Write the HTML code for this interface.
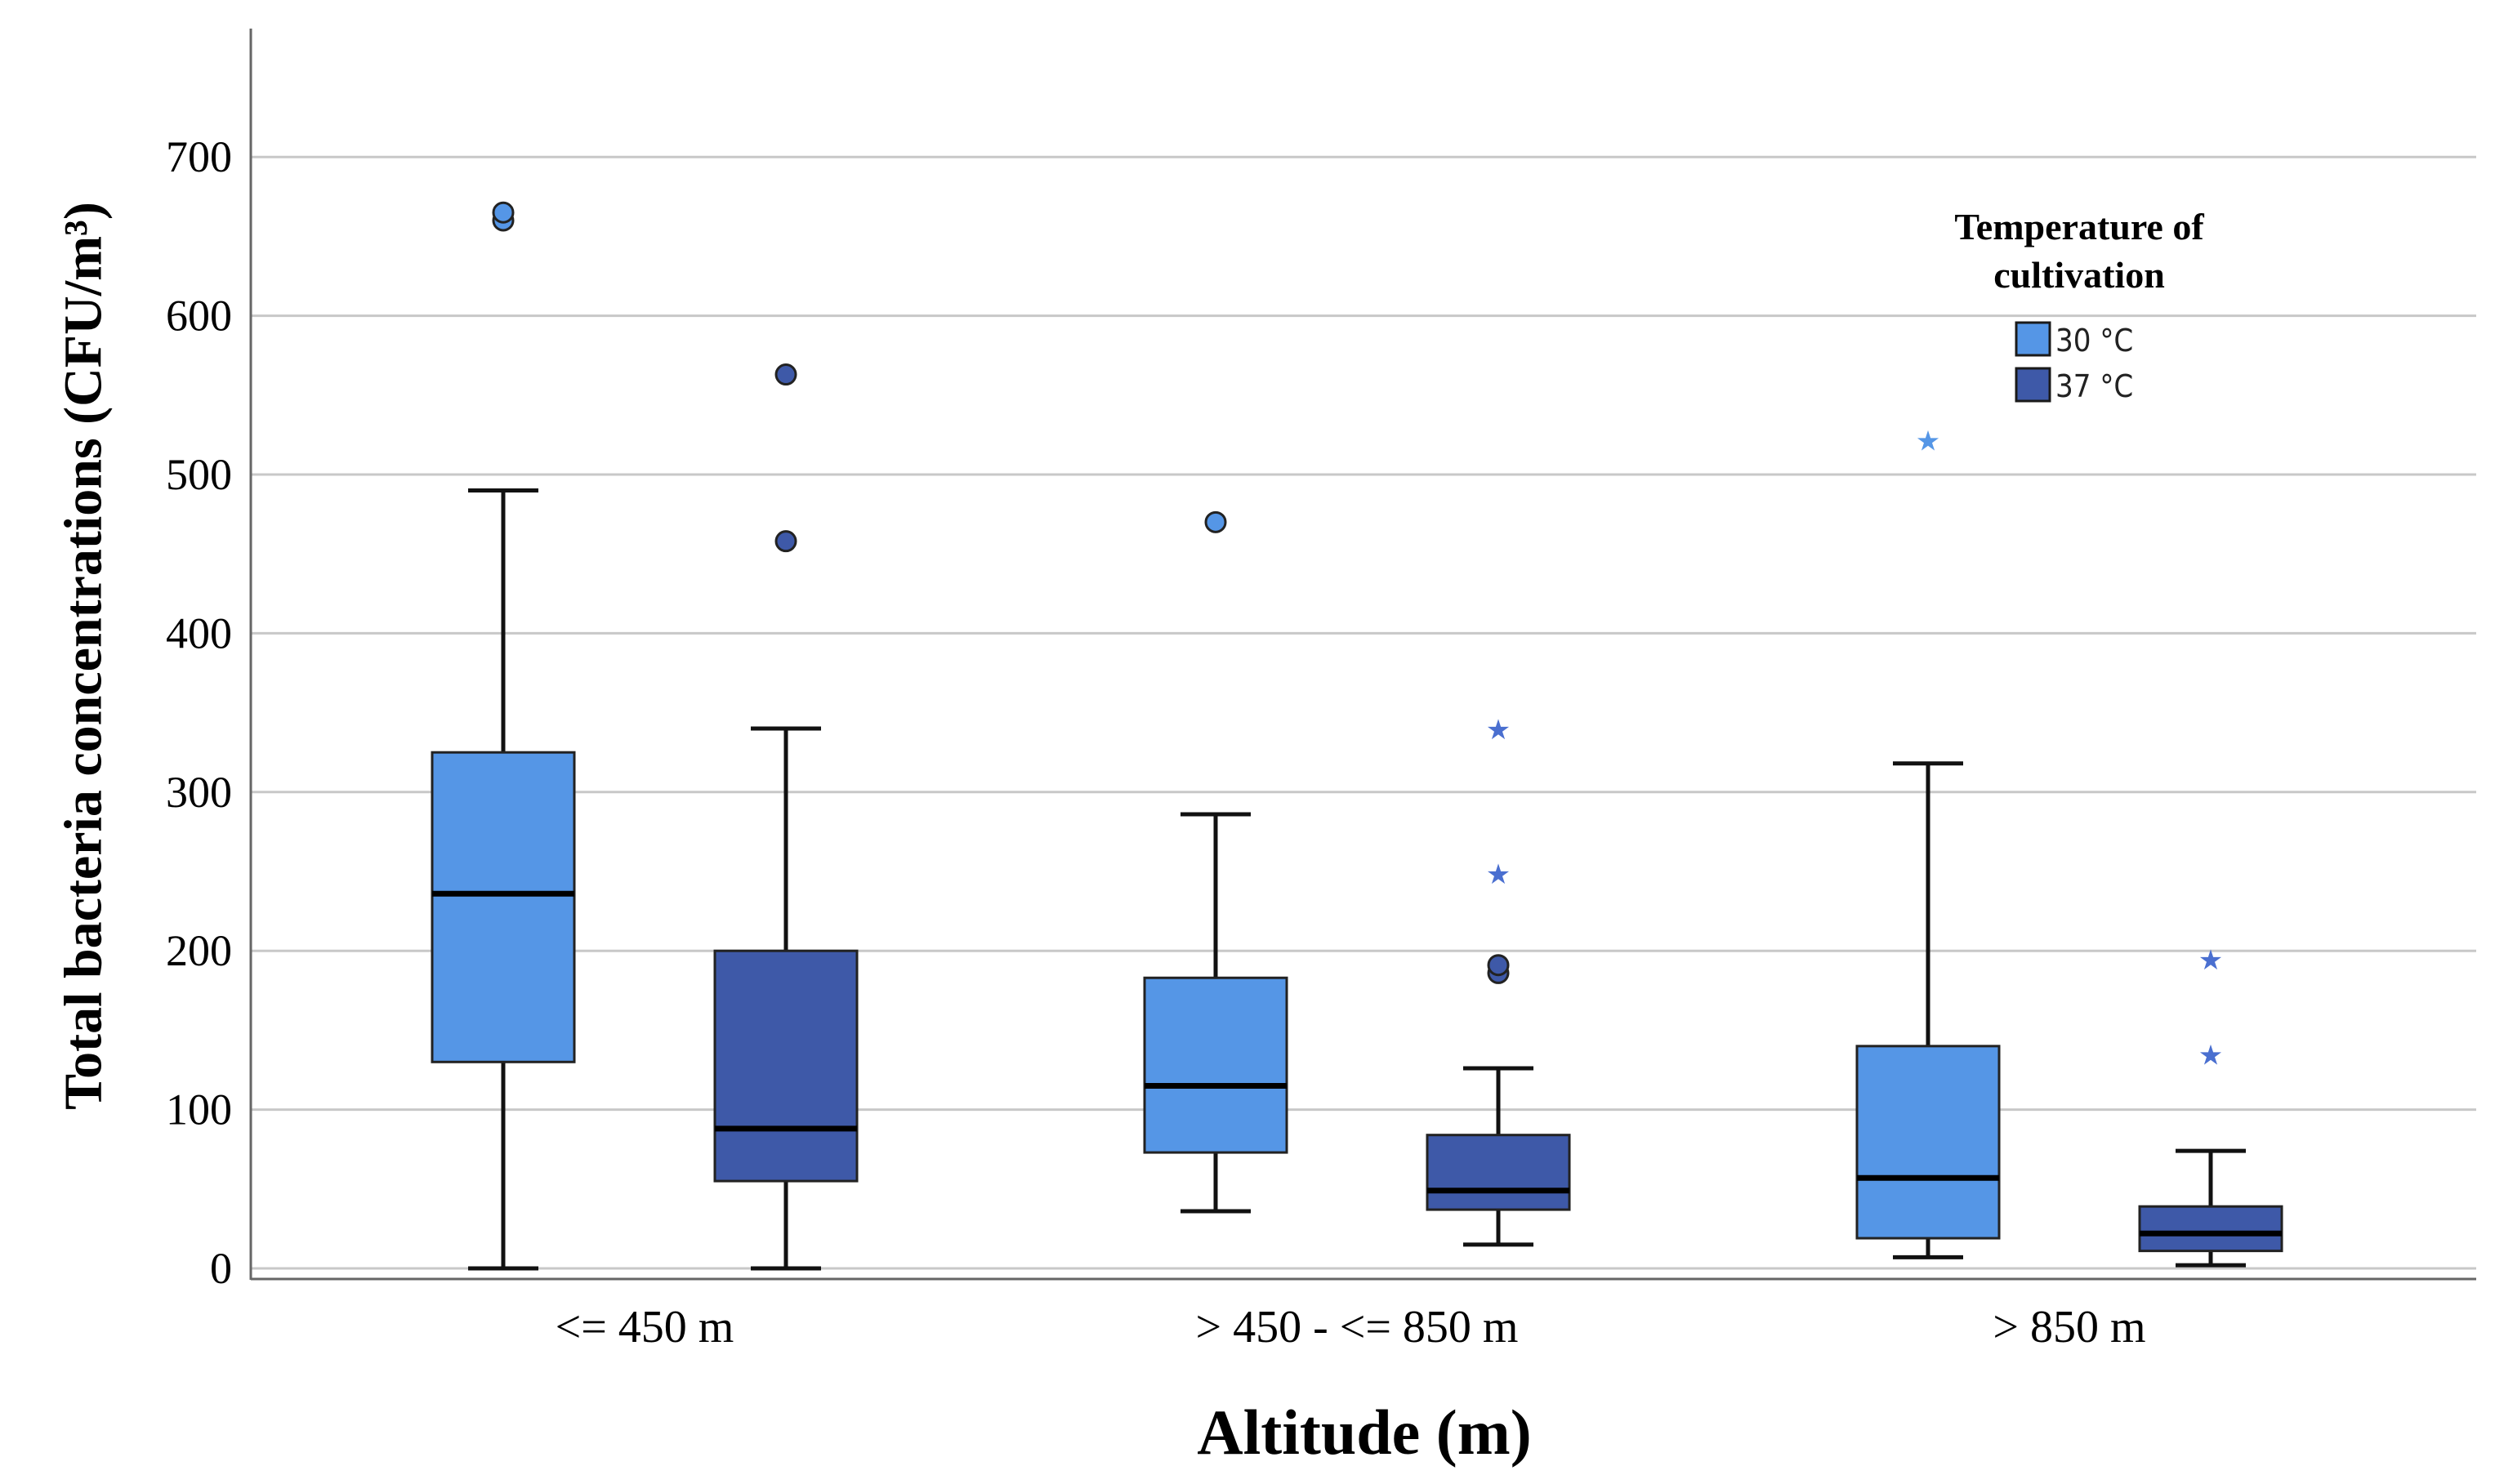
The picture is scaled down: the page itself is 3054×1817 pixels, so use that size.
<!DOCTYPE html>
<html><head><meta charset="utf-8"><style>
html,body{margin:0;padding:0;background:#fff;}
svg{display:block;}
</style></head><body>
<svg id="chart" width="3054" height="1817" viewBox="0 0 3054 1817" xmlns="http://www.w3.org/2000/svg">
<g id="grid"></g>
<g id="axes"></g>
<g id="marks"></g>
<text x="102" y="803" transform="rotate(-90 102 803)" text-anchor="middle" dominant-baseline="central" font-family="Liberation Serif, serif" font-weight="bold" font-size="66">Total bacteria concentrations (CFU/m³)</text>
<text x="1670" y="1780" text-anchor="middle" font-family="Liberation Serif, serif" font-weight="bold" font-size="78">Altitude (m)</text>
<g>
<text x="2545" y="293" text-anchor="middle" font-family="Liberation Serif, serif" font-weight="bold" font-size="46">Temperature of</text>
<text x="2545" y="352" text-anchor="middle" font-family="Liberation Serif, serif" font-weight="bold" font-size="46">cultivation</text>
<rect x="2468" y="395" width="41" height="40" fill="#5596e6" stroke="#1a1a1a" stroke-width="3"/>
<text x="2516" y="430" font-family="DejaVu Sans Condensed, DejaVu Sans, sans-serif" font-size="38" fill="#222">30 °C</text>
<rect x="2468" y="451" width="41" height="40" fill="#3e59a8" stroke="#1a1a1a" stroke-width="3"/>
<text x="2516" y="486" font-family="DejaVu Sans Condensed, DejaVu Sans, sans-serif" font-size="38" fill="#222">37 °C</text>
</g>
</svg>
<script>
const categories = ["<= 450 m", "> 450 - <= 850 m", "> 850 m"];
const yTicks = [0,100,200,300,400,500,600,700];
const mins30 = [0, 36, 7];
const q1s30 = [130, 73, 19];
const meds30 = [236, 115, 57];
const q3s30 = [325, 183, 140];
const maxs30 = [490, 286, 318];
const circles30 = [[660, 665], [470], []];
const stars30 = [[], [], [523]];
const mins37 = [0, 15, 2];
const q1s37 = [55, 37, 11];
const meds37 = [88, 49, 22];
const q3s37 = [200, 84, 39];
const maxs37 = [340, 126, 74];
const circles37 = [[458, 563], [186, 191], []];
const stars37 = [[], [250, 341], [136, 196]];

const NS = "http://www.w3.org/2000/svg";
const X0 = 307, X1 = 3031, Y0 = 1553, PER = 194.4;
function y(v){ return Y0 - v * PER / 100; }
function groupX(i){ return 789 + i * 872; }
function mk(tag, attrs, parent){ const e = document.createElementNS(NS, tag); for (const k in attrs) e.setAttribute(k, attrs[k]); parent.appendChild(e); return e; }
const grid = document.getElementById('grid'), axes = document.getElementById('axes'), marks = document.getElementById('marks');

yTicks.forEach(t => {
  const l = mk('line', {x1: X0, x2: X1, y1: y(t), y2: y(t), stroke: '#c8c8c8', 'stroke-width': 3}, grid);
  
  
  const tx = mk('text', {x: 284, y: y(t) + 18, 'text-anchor': 'end', 'font-family': 'Liberation Serif, serif', 'font-size': 54}, axes);
  tx.textContent = t;
  
  
});
const ya = mk('line', {x1: X0, x2: X0, y1: 35, y2: 1567, stroke: '#666', 'stroke-width': 3}, axes);


const xa = mk('line', {x1: X0, x2: X1, y1: 1566, y2: 1566, stroke: '#666', 'stroke-width': 3}, axes);


categories.forEach((c, i) => {
  const tx = mk('text', {x: groupX(i), y: 1643, 'text-anchor': 'middle', 'font-family': 'Liberation Serif, serif', 'font-size': 56}, axes);
  tx.textContent = c;
  
  
});

function drawBox(cx, mn, q1, md, q3, mx, circ, stars, fill, starFill, name){
  const g = mk('g', {}, marks);
  
  
  const hw = 87, cw = 43;
  mk('line', {x1: cx, x2: cx, y1: y(mx), y2: y(q3), stroke: '#111', 'stroke-width': 5}, g);
  mk('line', {x1: cx, x2: cx, y1: y(q1), y2: y(mn), stroke: '#111', 'stroke-width': 5}, g);
  mk('line', {x1: cx - cw, x2: cx + cw, y1: y(mx), y2: y(mx), stroke: '#111', 'stroke-width': 5}, g);
  mk('line', {x1: cx - cw, x2: cx + cw, y1: y(mn), y2: y(mn), stroke: '#111', 'stroke-width': 5}, g);
  mk('rect', {x: cx - hw, y: y(q3), width: 2 * hw, height: y(q1) - y(q3), fill: fill, stroke: '#222', 'stroke-width': 3}, g);
  mk('line', {x1: cx - hw, x2: cx + hw, y1: y(md), y2: y(md), stroke: '#000', 'stroke-width': 7}, g);
  circ.forEach(v => {
    const c = mk('circle', {cx: cx, cy: y(v), r: 12, fill: fill, stroke: '#222', 'stroke-width': 3}, g);
    
    
  });
  stars.forEach(v => {
    const s = mk('text', {x: cx, y: y(v) + 15, 'text-anchor': 'middle', 'font-family': 'DejaVu Sans, sans-serif', 'font-size': 34, fill: starFill}, g);
    s.textContent = '★';
    
    
  });
}
categories.forEach((c, i) => {
  const gx = groupX(i);
  drawBox(gx - 173, mins30[i], q1s30[i], meds30[i], q3s30[i], maxs30[i], circles30[i], stars30[i], '#5596e6', '#5596e6', 'box-30c-' + (i + 1));
  drawBox(gx + 173, mins37[i], q1s37[i], meds37[i], q3s37[i], maxs37[i], circles37[i], stars37[i], '#3e59a8', '#4a6fd0', 'box-37c-' + (i + 1));
});
</script>
</body></html>
